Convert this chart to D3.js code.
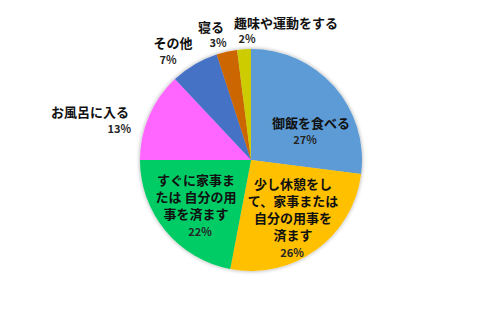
<!DOCTYPE html>
<html>
<head>
<meta charset="utf-8">
<script src="https://cdn.jsdelivr.net/npm/d3@7"></script>
<style>
  html, body { margin: 0; padding: 0; background: #fff; }
  svg { display: block; }
</style>
</head>
<body>
<svg id="chart" width="480" height="315"></svg>
<script>
// ---- data ----
const categories = [
  "御飯を食べる",
  "少し休憩をして、家事または自分の用事を済ます",
  "すぐに家事または自分の用事を済ます",
  "お風呂に入る",
  "その他",
  "寝る",
  "趣味や運動をする"
];
const values = [27, 26, 22, 13, 7, 3, 2];
const percentLabels = ["27%", "26%", "22%", "13%", "7%", "3%", "2%"];
// label text broken into lines as in the picture
const labelLines = [
  ["御飯を食べる"],
  ["少し休憩をし", "て、家事または", "自分の用事を", "済ます"],
  ["すぐに家事ま", "たは 自分の用", "事を済ます"],
  ["お風呂に入る"],
  ["その他"],
  ["寝る"],
  ["趣味や運動をする"]
];
const colors = ["#5B9BD5", "#FFC000", "#00CC66", "#FF66FF", "#4472C4", "#CC6600", "#CCCC00"];

// ---- layout (relative to pie centre) ----
const cx = 251, cy = 160, R = 111;
// [x of label centre, baseline y of first line, line height, x of pct, baseline y of pct, pct anchor]
const labelLayout = [
  [60, -32, 18, 54, -16, "middle"],
  [42, 29, 17, 41, 97, "middle"],
  [-55, 25, 17, -51, 76, "middle"],
  [-161, -43, 16, -120, -27, "end"],
  [-78, -112, 16, -83, -96, "middle"],
  [-40, -128, 15, -33, -113, "middle"],
  [35, -132, 15, -4, -117, "middle"]
];

const svg = d3.select("#chart");
const defs = svg.append("defs");
const f = defs.append("filter").attr("id", "shadow")
  .attr("x", "-20%").attr("y", "-20%").attr("width", "140%").attr("height", "140%");
f.append("feGaussianBlur").attr("in", "SourceAlpha").attr("stdDeviation", 2.2).attr("result", "b");
f.append("feOffset").attr("in", "b").attr("dx", 0).attr("dy", 0).attr("result", "o");
f.append("feComponentTransfer").attr("in", "o").attr("result", "o2")
  .append("feFuncA").attr("type", "linear").attr("slope", 0.35);
const m = f.append("feMerge");
m.append("feMergeNode").attr("in", "o2");
m.append("feMergeNode").attr("in", "SourceGraphic");

const data = categories.map((c, i) => ({ cat: c, value: values[i], i }));
const pie = d3.pie().value(d => d.value).sort(null);
const arc = d3.arc().innerRadius(0).outerRadius(R);

const g = svg.append("g").attr("transform", `translate(${cx},${cy})`);
const slices = g.append("g").attr("filter", "url(#shadow)");
slices.selectAll("path")
  .data(pie(data))
  .join("path")
  .attr("d", arc)
  .attr("fill", d => colors[d.data.i]);

const font = "'Noto Sans CJK JP', 'Noto Sans', sans-serif";
const labels = g.append("g");
data.forEach((d, i) => {
  const L = labelLayout[i];
  const t = labels.append("text")
    .attr("text-anchor", "middle")
    .attr("font-family", font)
    .attr("font-weight", "bold")
    .attr("font-size", 13)
    .attr("fill", "#111");
  labelLines[i].forEach((line, k) => {
    t.append("tspan").attr("x", L[0]).attr("y", L[1] + k * L[2]).text(line);
  });
  labels.append("text")
    .attr("x", L[3]).attr("y", L[4])
    .attr("text-anchor", L[5])
    .attr("font-family", font)
    .attr("font-weight", "bold")
    .attr("font-size", 11)
    .attr("fill", "#262626")
    .text(percentLabels[i]);
});
</script>
</body>
</html>
